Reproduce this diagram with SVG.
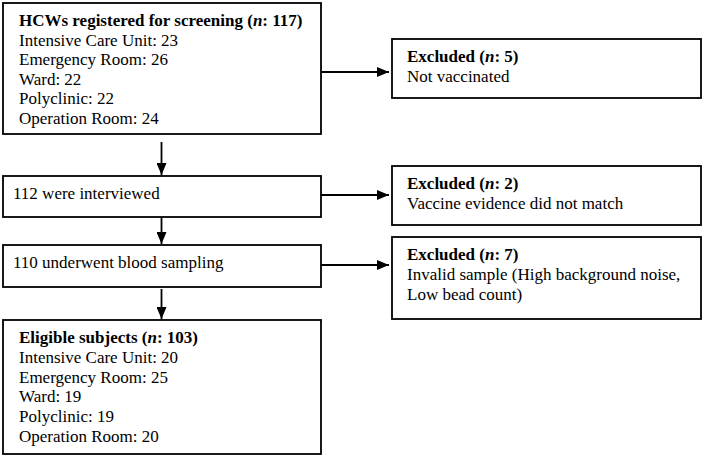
<svg xmlns="http://www.w3.org/2000/svg" width="706" height="465" viewBox="0 0 706 465">
<defs>
<style>
.box{fill:#fff;stroke:#000;stroke-width:1.8}
.t{font-family:"Liberation Serif","Times New Roman",serif;font-size:17px;fill:#000}
.b{font-weight:bold}
.c{stroke:#000;stroke-width:1.8;fill:none}
</style>
<marker id="ah" markerWidth="12" markerHeight="10" refX="12" refY="5" orient="auto" markerUnits="userSpaceOnUse">
<path d="M0,0 L12,5 L0,10 Z" fill="#000"/>
</marker>
</defs>
<rect width="706" height="465" fill="#fff"/>
<g id="connectors">
<line class="c" x1="161.5" y1="142" x2="161.5" y2="175" marker-end="url(#ah)"/>
<line class="c" x1="161.5" y1="217" x2="161.5" y2="244" marker-end="url(#ah)"/>
<line class="c" x1="161.5" y1="289" x2="161.5" y2="319" marker-end="url(#ah)"/>
<line class="c" x1="321" y1="72" x2="389" y2="72" marker-end="url(#ah)"/>
<line class="c" x1="321" y1="195" x2="389" y2="195" marker-end="url(#ah)"/>
<line class="c" x1="321" y1="265" x2="389" y2="265" marker-end="url(#ah)"/>
</g>
<g id="registered">
<rect class="box" x="3" y="3" width="318" height="131"/>
<text class="t" x="19" y="26"><tspan class="b">HCWs registered for screening (</tspan><tspan class="b" font-style="italic">n</tspan><tspan class="b">: 117)</tspan></text>
<text class="t" x="19" y="45.5">Intensive Care Unit: 23</text>
<text class="t" x="19" y="65">Emergency Room: 26</text>
<text class="t" x="19" y="84.5">Ward: 22</text>
<text class="t" x="19" y="104">Polyclinic: 22</text>
<text class="t" x="19" y="123.5">Operation Room: 24</text>
</g>
<g id="excluded1">
<rect class="box" x="392" y="39" width="309" height="59"/>
<text class="t" x="407" y="62"><tspan class="b">Excluded (</tspan><tspan class="b" font-style="italic">n</tspan><tspan class="b">: 5)</tspan></text>
<text class="t" x="407" y="82">Not vaccinated</text>
</g>
<g id="interviewed">
<rect class="box" x="3" y="176" width="318" height="41"/>
<text class="t" x="13" y="199">112 were interviewed</text>
</g>
<g id="excluded2">
<rect class="box" x="392" y="166" width="309" height="59"/>
<text class="t" x="407" y="189"><tspan class="b">Excluded (</tspan><tspan class="b" font-style="italic">n</tspan><tspan class="b">: 2)</tspan></text>
<text class="t" x="407" y="209">Vaccine evidence did not match</text>
</g>
<g id="sampling">
<rect class="box" x="3" y="245" width="318" height="42"/>
<text class="t" x="13" y="268">110 underwent blood sampling</text>
</g>
<g id="excluded3">
<rect class="box" x="392" y="237" width="309" height="82"/>
<text class="t" x="407" y="260"><tspan class="b">Excluded (</tspan><tspan class="b" font-style="italic">n</tspan><tspan class="b">: 7)</tspan></text>
<text class="t" x="407" y="280">Invalid sample (High background noise,</text>
<text class="t" x="407" y="300">Low bead count)</text>
</g>
<g id="eligible">
<rect class="box" x="3" y="320" width="318" height="134"/>
<text class="t" x="19" y="343"><tspan class="b">Eligible subjects (</tspan><tspan class="b" font-style="italic">n</tspan><tspan class="b">: 103)</tspan></text>
<text class="t" x="19" y="362.8">Intensive Care Unit: 20</text>
<text class="t" x="19" y="382.6">Emergency Room: 25</text>
<text class="t" x="19" y="402.4">Ward: 19</text>
<text class="t" x="19" y="422.2">Polyclinic: 19</text>
<text class="t" x="19" y="442">Operation Room: 20</text>
</g>
</svg>
